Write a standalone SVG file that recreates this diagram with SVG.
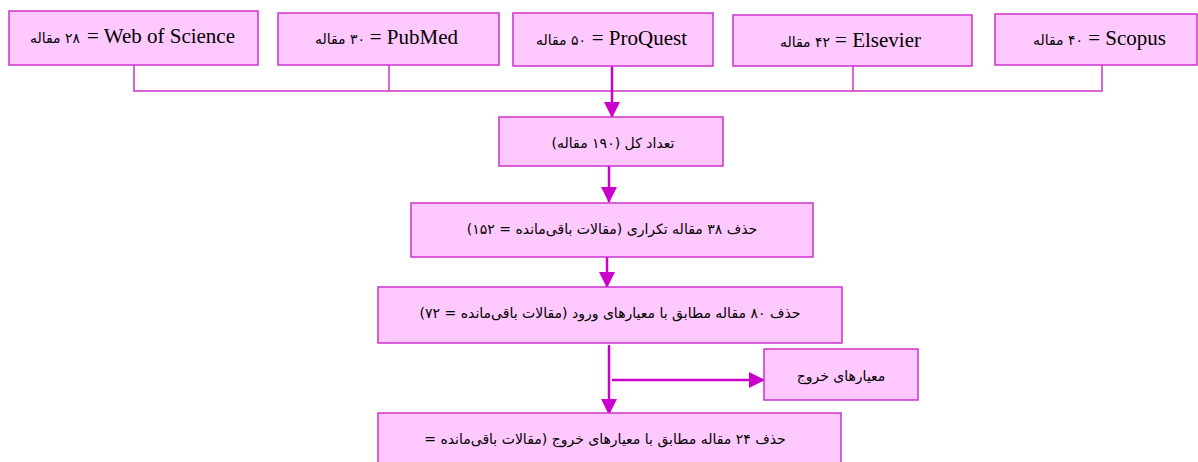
<svg xmlns="http://www.w3.org/2000/svg" width="1198" height="462" viewBox="0 0 1198 462">
<style>
.box{fill:#ffc8ff;stroke:#cc33cc;stroke-width:1.5}
.thin{stroke:#cc33cc;stroke-width:1.5;fill:none}
.thick{stroke:#cc00cc;stroke-width:2.5;fill:none}
text{fill:#000}
.en{font-family:'Liberation Serif',serif;font-size:21px;text-anchor:end}
.fa{font-family:'DejaVu Sans',sans-serif;font-size:14px;direction:rtl;text-anchor:start}
.p{font-family:'DejaVu Sans',sans-serif;font-size:14px;direction:rtl;text-anchor:middle}
</style>
<defs>
<marker id="ah" markerUnits="userSpaceOnUse" markerWidth="16" markerHeight="16" refX="15" refY="8" orient="auto">
<path d="M0,0 L16,8 L0,16 z" fill="#cc00cc"/>
</marker>
</defs>
<g id="connectors">
<path class="thin" d="M134,65 V91 H1102 V65"/>
<path class="thin" d="M389,65 V91"/>
<path class="thin" d="M853,66 V91"/>
<line class="thick" x1="612" y1="66" x2="612" y2="117" marker-end="url(#ah)"/>
<line class="thick" x1="609" y1="166" x2="609" y2="202" marker-end="url(#ah)"/>
<line class="thick" x1="607" y1="257" x2="607" y2="287" marker-end="url(#ah)"/>
<line class="thick" x1="609" y1="345" x2="609" y2="414" marker-end="url(#ah)"/>
<line class="thick" x1="612" y1="380" x2="764" y2="380" marker-end="url(#ah)"/>
</g>
<g id="wos">
<rect class="box" x="9" y="11" width="249" height="54"/>
<text class="en" x="235" y="43">= Web of Science</text>
<text class="fa" x="80" y="43">۲۸ مقاله</text>
</g>
<g id="pubmed">
<rect class="box" x="278" y="13" width="221" height="52"/>
<text class="en" x="458" y="44">= PubMed</text>
<text class="fa" x="365" y="44">۳۰ مقاله</text>
</g>
<g id="proquest">
<rect class="box" x="513" y="13" width="200" height="53"/>
<text class="en" x="687" y="45">= ProQuest</text>
<text class="fa" x="586" y="45">۵۰ مقاله</text>
</g>
<g id="elsevier">
<rect class="box" x="733" y="15" width="239" height="51"/>
<text class="en" x="921" y="47">= Elsevier</text>
<text class="fa" x="830" y="47">۴۲ مقاله</text>
</g>
<g id="scopus">
<rect class="box" x="995" y="14" width="202" height="51"/>
<text class="en" x="1166" y="45">= Scopus</text>
<text class="fa" x="1083" y="45">۴۰ مقاله</text>
</g>
<g id="total">
<rect class="box" x="499" y="117" width="224" height="49"/>
<text class="p" x="613" y="148">تعداد کل (۱۹۰ مقاله)</text>
</g>
<g id="dup">
<rect class="box" x="411" y="203" width="402" height="54"/>
<text class="p" x="612" y="234">حذف ۳۸ مقاله تکراری (مقالات باقی‌مانده = ۱۵۲)</text>
</g>
<g id="incl">
<rect class="box" x="378" y="287" width="464" height="56"/>
<text class="p" x="610" y="318">حذف ۸۰ مقاله مطابق با معیارهای ورود (مقالات باقی‌مانده = ۷۲)</text>
</g>
<g id="excl">
<rect class="box" x="764" y="349" width="154" height="51"/>
<text class="p" x="841" y="381">معیارهای خروج</text>
</g>
<g id="final">
<rect class="box" x="378" y="413" width="463" height="60"/>
<text class="p" x="605" y="444">حذف ۲۴ مقاله مطابق با معیارهای خروج (مقالات باقی‌مانده =</text>
</g>
</svg>
